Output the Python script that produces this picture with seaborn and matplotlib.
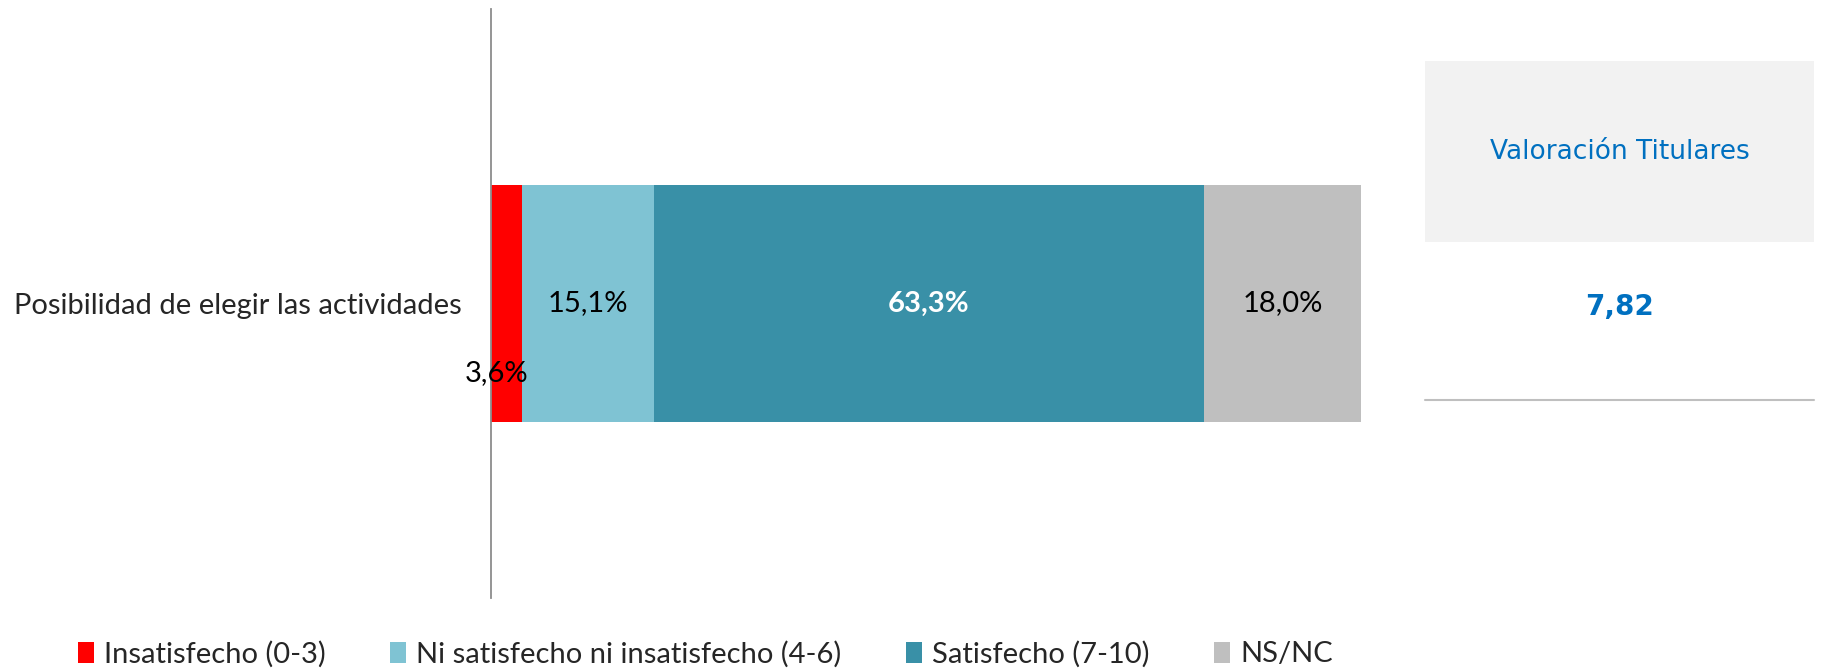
import numpy as np
import pandas as pd
import matplotlib
matplotlib.use("Agg")
import matplotlib.pyplot as plt
import seaborn as sns
from matplotlib.patches import Patch, Rectangle
from matplotlib.lines import Line2D

# data
category = ["Posibilidad de elegir las actividades"]
series_names = ["Insatisfecho (0-3)", "Ni satisfecho ni insatisfecho (4-6)",
                "Satisfecho (7-10)", "NS/NC"]
series_values = [3.6, 15.1, 63.3, 18.0]
series_labels = ["3,6%", "15,1%", "63,3%", "18,0%"]
series_colors = ["#FF0000", "#7FC3D3", "#3990A7", "#BFBFBF"]
score_title = "Valoración Titulares"
score_value = "7,82"

sns.set_theme(style="white")
plt.rcParams["font.family"] = ["Lato", "DejaVu Sans"]
fs = 21

fig = plt.figure(figsize=(18.21, 6.71), dpi=100)
ax = fig.add_axes([0.2696, 0.1088, 0.4778, 0.8778])

# stacked bars: draw cumulative totals from largest to smallest
cum = np.cumsum(series_values)
for i in range(len(series_values) - 1, -1, -1):
    df = pd.DataFrame({"cat": category, "val": [cum[i]]})
    sns.barplot(data=df, x="val", y="cat", color=series_colors[i], width=0.5,
                saturation=1, orient="h", ax=ax, linewidth=0)

starts = cum - np.array(series_values)
for i, lab in enumerate(series_labels):
    xc = starts[i] + series_values[i] / 2
    if i == 0:
        # small segment: label pushed below the centre
        ax.text(0.6, 0.147, lab, ha="center", va="center", fontsize=fs, color="black")
    elif i == 2:
        ax.text(xc, 0, lab, ha="center", va="center", fontsize=fs,
                color="white", fontweight="bold")
    else:
        ax.text(xc, 0, lab, ha="center", va="center", fontsize=fs, color="black")

ax.set_xlim(0, 100)
ax.set_ylim(0.62, -0.62)
ax.set_xlabel("")
ax.set_ylabel("")
ax.set_xticks([])
ax.tick_params(axis="y", length=0, pad=21, labelsize=fs)
for s in ["top", "right", "bottom"]:
    ax.spines[s].set_visible(False)
ax.spines["left"].set_color("#8C8C8C")
ax.spines["left"].set_linewidth(1.3)

# side table with the score
fig.patches.append(Rectangle((0.7825, 0.6398), 0.2136, 0.2697, transform=fig.transFigure,
                             facecolor="#F2F2F2", edgecolor="none"))
fig.text(0.8893, 0.7735, score_title, ha="center", va="center", fontsize=19,
         color="#0070C0", family="DejaVu Sans")
fig.text(0.8893, 0.5425, score_value, ha="center", va="center", fontsize=20,
         color="#0070C0", fontweight="bold", family="DejaVu Sans")
fig.lines.append(Line2D([0.7825, 0.9962], [0.4039, 0.4039], transform=fig.transFigure,
                        color="#BFBFBF", linewidth=1.5))

handles = [Patch(facecolor=c, edgecolor="none", label=n)
           for c, n in zip(series_colors, series_names)]
fig.legend(handles=handles, loc="center left", bbox_to_anchor=(78 / 1821, 1 - 654 / 671),
           ncol=4, frameon=False, fontsize=fs, handlelength=0.55, handleheight=0.75,
           handletextpad=0.35, columnspacing=2.2, borderpad=0, borderaxespad=0)

fig.savefig("out.png", dpi=100)
